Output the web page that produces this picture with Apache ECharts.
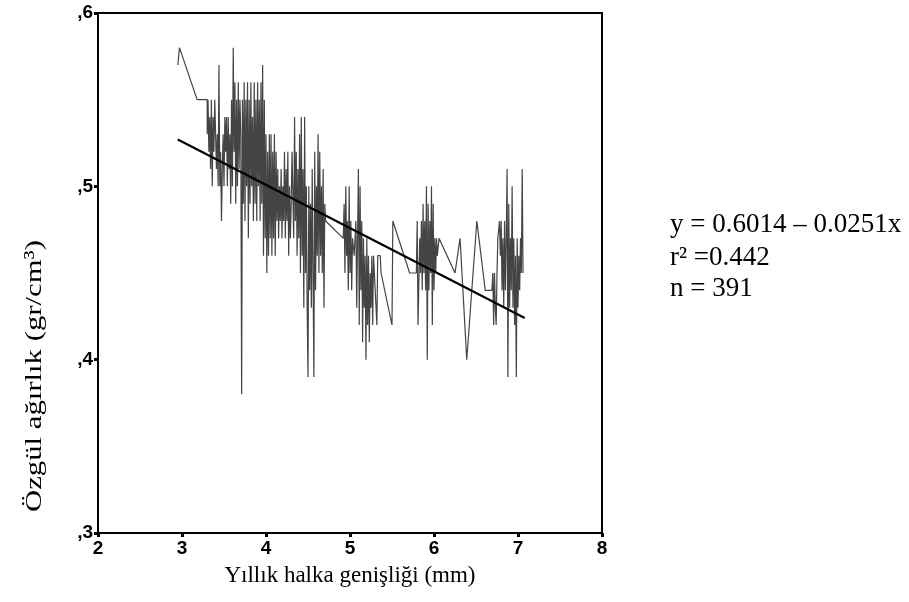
<!DOCTYPE html>
<html>
<head>
<meta charset="utf-8">
<script src="https://cdn.jsdelivr.net/npm/echarts@6/dist/echarts.min.js"></script>
<style>html,body{margin:0;padding:0;background:#fff}#c{width:909px;height:602px}</style>
</head>
<body>
<div id="c"></div>
<script>
// Ring width (mm) of each measured ring, in x order
const widths = [
2.95,2.97,3.18,3.30,
3.30,3.31,3.32,3.33,3.34,3.35,3.36,3.37,3.38,3.39,3.40,3.41,3.42,3.43,3.44,3.45,3.46,3.47,3.48,3.49,3.50,3.51,3.52,3.53,3.54,3.55,3.56,3.57,3.58,3.59,3.60,
3.61,3.62,3.63,3.64,3.65,3.66,3.67,3.68,3.69,3.70,3.71,3.72,3.73,3.74,3.75,3.76,3.77,3.78,3.79,3.80,3.81,3.82,3.83,3.84,3.85,3.86,3.87,3.88,3.89,3.90,3.91,3.92,3.93,3.94,3.95,3.96,3.97,3.98,3.99,4.00,4.01,4.02,
4.03,4.04,4.05,4.06,4.07,4.08,4.09,4.10,4.11,4.12,4.13,4.14,4.15,4.16,4.17,4.18,4.19,4.20,4.21,4.22,4.23,4.24,4.25,4.26,4.27,4.28,4.29,4.30,
4.31,4.33,4.34,4.35,4.36,4.37,4.38,4.39,4.40,4.41,4.42,4.43,4.44,4.45,4.46,4.47,4.48,4.49,4.50,4.51,4.52,4.53,4.54,4.55,4.56,4.57,4.58,4.59,4.60,4.61,4.62,4.63,4.64,4.65,4.66,4.67,4.68,4.69,4.70,
4.71,4.92,4.93,4.94,4.95,4.96,4.97,4.98,4.99,5.00,5.01,5.02,5.03,5.05,5.07,5.08,5.10,5.11,5.12,5.13,5.14,5.15,5.16,5.17,5.18,5.19,5.20,5.21,5.22,5.23,5.24,5.25,5.26,5.27,5.28,5.30,5.32,5.33,
5.36,5.37,5.50,5.51,5.71,5.79,5.80,5.81,5.83,5.84,5.85,5.86,5.87,5.88,5.89,5.90,5.91,5.92,5.93,5.94,5.95,5.96,5.97,5.98,5.99,6.00,6.01,6.02,6.03,6.04,6.06,
6.25,6.31,6.39,6.51,6.61,6.69,6.70,6.71,6.72,6.73,6.74,6.75,6.76,6.78,6.79,6.80,6.81,6.82,6.83,6.84,6.85,6.86,6.87,6.88,6.89,6.90,6.91,6.92,6.93,6.94,6.95,6.96,6.97,6.98,6.99,7.00,7.01,7.02,7.03,7.04,7.05,7.06
];
// Specific gravity (gr/cm3) of each ring
const gravities = [
.57,.58,.55,.55,
.53,.55,.52,.54,.51,.55,.50,.54,.52,.55,.53,.51,.53,.50,.57,.50,.52,.48,.51,.53,.50,.54,.52,.54,.50,.54,.51,.53,.49,.55,.50,
.58,.52,.56,.49,.55,.50,.56,.51,.55,.53,.38,.55,.49,.56,.48,.55,.50,.56,.47,.55,.49,.56,.50,.54,.48,.56,.49,.55,.48,.56,.50,.55,.48,.56,.49,.57,.46,.55,.47,.53,.45,.52,
.46,.53,.47,.53,.46,.52,.47,.53,.46,.52,.48,.51,.47,.50,.48,.51,.47,.50,.48,.52,.47,.51,.48,.52,.46,.50,.47,.49,
.52,.47,.54,.48,.52,.46,.51,.47,.53,.45,.54,.46,.51,.43,.54,.45,.50,.43,.39,.50,.44,.49,.43,.51,.45,.39,.52,.44,.50,.46,.53,.45,.52,.46,.50,.45,.51,.43,.49,
.48,.47,.49,.45,.50,.46,.48,.44,.50,.45,.48,.44,.47,.46,.48,.43,.51,.42,.50,.44,.48,.41,.47,.43,.46,.40,.47,.42,.46,.41,.45,.43,.46,.42,.46,.44,.42,.46,
.46,.45,.42,.48,.45,.45,.48,.42,.47,.45,.48,.44,.49,.45,.48,.44,.50,.40,.49,.44,.48,.45,.50,.42,.49,.44,.47,.45,.47,.46,.47,
.45,.47,.40,.48,.44,.44,.45,.42,.45,.43,.42,.45,.47,.48,.46,.48,.44,.47,.43,.48,.44,.47,.51,.39,.49,.43,.47,.44,.50,.43,.47,.42,.46,.39,.47,.43,.46,.44,.47,.45,.51,.45
];
// Regression line end points
const fitX = [2.95, 7.08];
const fitY = [0.527, 0.424];
const xTicks = [2, 8, 1];
const yTicks = [0.3, 0.6, 0.1];
const eqLines = ['y = 0.6014 \u2013 0.0251x', 'r\u00b2 =0.442', 'n = 391'];

const pts = widths.map((x, i) => [x, gravities[i]]);
const fit = fitX.map((x, i) => [x, fitY[i]]);

const chart = echarts.init(document.getElementById('c'), null, {renderer: 'canvas'});
const serif = '"Liberation Serif", "Times New Roman", serif';
const sans = '"Liberation Sans", Arial, sans-serif';
const eqFont = '27px ' + serif;
chart.setOption({
  animation: false,
  backgroundColor: '#fff',
  grid: {left: 98, top: 13, right: 307, bottom: 69, show: true, borderColor: '#000', borderWidth: 2},
  xAxis: {
    type: 'value', min: xTicks[0], max: xTicks[1], interval: xTicks[2],
    name: 'Yıllık halka genişliği (mm)', nameLocation: 'middle', nameGap: 31,
    nameTextStyle: {fontFamily: serif, fontSize: 23, color: '#000'},
    axisLine: {show: true, lineStyle: {color: '#000', width: 2}},
    axisTick: {show: true, length: 4, lineStyle: {color: '#000', width: 3}},
    axisLabel: {fontFamily: sans, fontSize: 19, fontWeight: 'bold', color: '#000', margin: 6},
    splitLine: {show: false}
  },
  yAxis: {
    type: 'value', min: yTicks[0], max: yTicks[1], interval: yTicks[2],
    axisLine: {show: true, lineStyle: {color: '#000', width: 2}},
    axisTick: {show: true, length: 4, lineStyle: {color: '#000', width: 3}},
    axisLabel: {fontFamily: sans, fontSize: 19, fontWeight: 'bold', color: '#000', margin: 5,
      formatter: v => ',' + Math.round(v * 10)},
    splitLine: {show: false}
  },
  graphic: [
    {type: 'text', x: 35, y: 376, rotation: Math.PI / 2, scaleX: 1.28,
      style: {text: 'Özgül ağırlık (gr/cm³)', font: '24px ' + serif, fill: '#000',
        textAlign: 'center', textVerticalAlign: 'middle'}, z: 10},
    {type: 'text', x: 670, y: 225, style: {text: eqLines[0], font: eqFont, fill: '#000', textVerticalAlign: 'middle'}},
    {type: 'text', x: 670, y: 258, style: {text: eqLines[1], font: eqFont, fill: '#000', textVerticalAlign: 'middle'}},
    {type: 'text', x: 670, y: 289, style: {text: eqLines[2], font: eqFont, fill: '#000', textVerticalAlign: 'middle'}}
  ],
  series: [
    {type: 'line', data: pts, showSymbol: false, symbol: 'none',
      lineStyle: {color: '#444', width: 1.2}, z: 2},
    {type: 'line', data: fit, showSymbol: false, symbol: 'none',
      lineStyle: {color: '#000', width: 2.2}, z: 3}
  ]
});
</script>
</body>
</html>
